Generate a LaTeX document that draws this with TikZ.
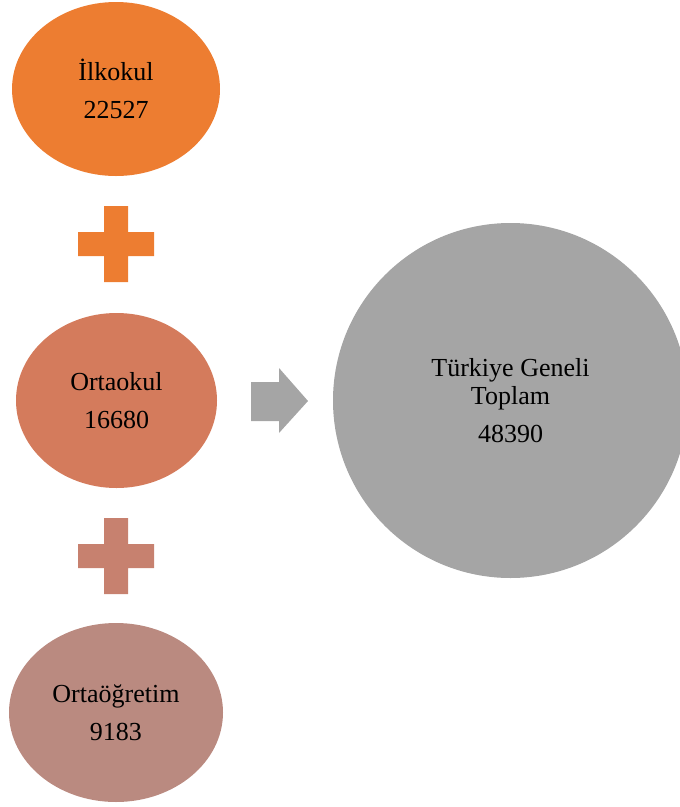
\documentclass[tikz,border=0pt]{standalone}
\usepackage{fontspec}
\setmainfont{Liberation Serif}
\usetikzlibrary{shapes.geometric}
\definecolor{cOrange}{HTML}{ED7D31}
\definecolor{cMid}{HTML}{D47B5C}
\definecolor{cPlusTwo}{HTML}{C7816F}
\definecolor{cRose}{HTML}{BA8A80}
\definecolor{cGray}{HTML}{A5A5A5}
\tikzset{
  blob/.style={ellipse, draw=none, inner sep=0pt, align=center,
    font=\fontsize{26}{28}\selectfont, text=black},
  plusshape/.style={draw=none},
}
\begin{document}
\begin{tikzpicture}[x=1pt,y=-1pt]
\useasboundingbox (0,0) rectangle (680,807);
\node[blob, fill=cOrange, minimum width=208pt, minimum height=174pt] (ilk) at (116,89) {İlkokul\\[10pt]22527};
\node[blob, fill=cMid, minimum width=201pt, minimum height=175pt] (orta) at (116.5,400.5) {Ortaokul\\[10pt]16680};
\node[blob, fill=cRose, minimum width=214pt, minimum height=179pt] (ortaog) at (116,712.5) {Ortaöğretim\\[10pt]9183};
\node[blob, circle, fill=cGray, minimum size=355pt] (top) at (510.5,400.5) {Türkiye Geneli\\Toplam\\[10pt]48390};
% plus signs
\fill[cOrange] (104,206) -- (128,206) -- (128,232) -- (154,232) -- (154,256) -- (128,256) -- (128,282) -- (104,282) -- (104,256) -- (78,256) -- (78,232) -- (104,232) -- cycle;
\fill[cPlusTwo] (104,518) -- (128,518) -- (128,544) -- (154,544) -- (154,568) -- (128,568) -- (128,594) -- (104,594) -- (104,568) -- (78,568) -- (78,544) -- (104,544) -- cycle;
% arrow
\fill[cGray] (251,382) -- (279,382) -- (279,368) -- (308,401) -- (279,433) -- (279,421) -- (251,421) -- cycle;
\end{tikzpicture}
\end{document}
